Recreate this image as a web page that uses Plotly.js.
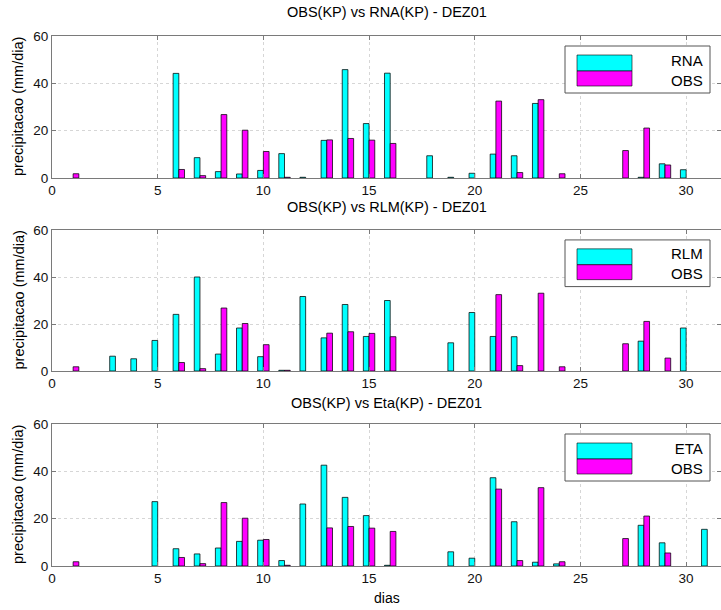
<!DOCTYPE html>
<html>
<head>
<meta charset="utf-8">
<script src="https://cdn.plot.ly/plotly-3.0.1.min.js"></script>
<style>html,body{margin:0;padding:0;background:#fff;}#chart{width:721px;height:610px;}</style>
</head>
<body>
<div id="chart"></div>
<script>
// Days of December 2001
const days = [1,2,3,4,5,6,7,8,9,10,11,12,13,14,15,16,17,18,19,20,21,22,23,24,25,26,27,28,29,30,31];
// Observed precipitation (mm/dia)
const obs = [1.8,null,null,null,null,3.6,1.0,26.8,20.2,11.2,0.3,null,16.1,16.7,16.0,14.6,null,null,null,null,32.5,2.3,33.1,1.8,null,null,11.6,21.1,5.5,null,null];
// RNA model
const rna = [null,null,null,null,null,44.2,8.6,2.7,1.7,3.2,10.3,0.3,15.9,45.8,23.0,44.3,null,9.4,0.3,2.0,10.1,9.4,31.5,null,null,null,null,0.3,6.0,3.5,null];
// RLM model
const rlm = [null,null,6.3,5.2,13.0,24.1,40.0,7.2,18.3,6.1,0.3,31.7,14.1,28.3,14.7,30.0,null,null,12.0,24.9,14.7,14.6,null,null,null,null,null,12.7,null,18.3,null];
// Eta model
const eta = [null,null,null,null,27.2,7.3,5.1,7.6,10.4,10.9,2.3,26.2,42.6,29.0,21.3,0.3,null,null,6.0,3.3,37.3,18.7,1.6,0.9,null,null,null,17.2,9.8,null,15.5];

const modelNames = ['RNA','RLM','ETA'];
const modelData = [rna, rlm, eta];
const titles = ['OBS(KP) vs RNA(KP) - DEZ01','OBS(KP) vs RLM(KP) - DEZ01','OBS(KP) vs Eta(KP) - DEZ01'];
const yTicks = [0,20,40,60];
const xTicks = [0,5,10,15,20,25,30];

const W = 721, H = 610;
const CYAN = '#00ffff', MAG = '#ff00ff';
const FONT = 'Liberation Sans, Arial, Helvetica, sans-serif';

// pixel layout of each panel (top = 60 line, bottom = 0 line)
const panels = [{top:36,bot:178,title:12},{top:230,bot:371,title:207},{top:424,bot:566,title:403}];
const py = p => 1 - p/H;

const traces = [];
const layout = {
  width: W, height: H,
  margin: {l:52, r:0, t:0, b:0},
  paper_bgcolor: '#fff', plot_bgcolor: '#fff',
  barmode: 'group', bargap: 0.46, bargroupgap: 0,
  showlegend: false,
  font: {family: FONT, size: 13, color: '#000'},
  shapes: [], annotations: []
};

panels.forEach((p, i) => {
  const k = i === 0 ? '' : String(i+1);
  const xa = 'x' + k, ya = 'y' + k;
  traces.push({type:'bar', x: days, y: modelData[i], name: modelNames[i], xaxis: xa, yaxis: ya,
    marker:{color: CYAN, line:{color:'rgba(0,0,0,0.75)', width:1}}});
  traces.push({type:'bar', x: days, y: obs, name: 'OBS', xaxis: xa, yaxis: ya,
    marker:{color: MAG, line:{color:'rgba(0,0,0,0.75)', width:1}}});
  const common = {showline:true, linecolor:'#7a7a7a', linewidth:1, mirror:'allticks',
    ticks:'inside', ticklen:4, tickcolor:'#7a7a7a', showgrid:true, gridcolor:'#d6d6d6',
    griddash:'dot', gridwidth:1, zeroline:false, tickfont:{family:FONT, size:13.5, color:'#111'}};
  layout['xaxis' + k] = Object.assign({}, common, {anchor: ya, range:[0, 31.65], tickvals: xTicks, ticktext: xTicks.map(String)});
  layout['yaxis' + k] = Object.assign({}, common, {anchor: xa, range:[0, 60], domain:[py(p.bot), py(p.top)], tickvals: yTicks, ticktext: yTicks.map(String)});
  layout.annotations.push({text: titles[i], xref:'paper', yref:'paper', x:0.5, y:py(p.title), xanchor:'center', yanchor:'middle', showarrow:false, font:{family:FONT, size:14.5, color:'#000'}});
  layout.annotations.push({text:'precipitacao (mm/dia)', xref:'paper', yref: ya + ' domain', x:(18-52)/669, y:0.5, textangle:-90, xanchor:'center', yanchor:'middle', showarrow:false, font:{family:FONT, size:14.5, color:'#000'}});
  // legend box
  const yd = ya + ' domain';
  layout.shapes.push({type:'rect', xref:'paper', yref: yd, x0:(565-52)/669, x1:(710-52)/669, y0:1-57/142, y1:1-10/142, line:{color:'#555', width:1}, fillcolor:'#fff', layer:'above'});
  layout.shapes.push({type:'rect', xref:'paper', yref: yd, x0:(577-52)/669, x1:(632-52)/669, y0:1-35/142, y1:1-19/142, line:{color:'rgba(0,0,0,0.6)', width:1}, fillcolor:CYAN, layer:'above'});
  layout.shapes.push({type:'rect', xref:'paper', yref: yd, x0:(577-52)/669, x1:(632-52)/669, y0:1-50/142, y1:1-35/142, line:{color:'rgba(0,0,0,0.6)', width:1}, fillcolor:MAG, layer:'above'});
  layout.annotations.push({text: modelNames[i] + '<br>OBS', align:'right', xref:'paper', yref: yd, x:(705-52)/669, y:1-34/142, xanchor:'right', yanchor:'middle', showarrow:false, font:{family:FONT, size:15, color:'#000'}});
});
layout.annotations.push({text:'dias', xref:'paper', yref:'paper', x:0.5, y:py(598), xanchor:'center', yanchor:'middle', showarrow:false, font:{family:FONT, size:14, color:'#000'}});

Plotly.newPlot('chart', traces, layout, {staticPlot:true, displayModeBar:false});
</script>
</body>
</html>
